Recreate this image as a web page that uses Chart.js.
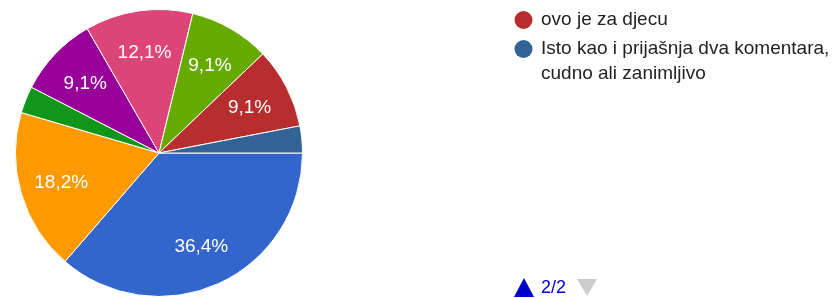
<!DOCTYPE html>
<html>
<head>
<meta charset="utf-8">
<script src="https://cdn.jsdelivr.net/npm/chart.js@4"></script>
<style>
  html, body { margin: 0; padding: 0; background: #fff; }
  #wrap { position: relative; width: 834px; height: 298px; }
</style>
</head>
<body>
<div id="wrap"><canvas id="pie" width="834" height="298"></canvas></div>
<script>
// answers (only the last page of the legend is visible in the original)
const labels = [
  'Odgovor 1', 'Odgovor 2', 'Odgovor 3', 'Odgovor 4',
  'Odgovor 5', 'Odgovor 6',
  'ovo je za djecu',
  'Isto kao i prijašnja dva komentara, cudno ali zanimljivo'
];
const counts = [12, 6, 1, 3, 4, 3, 3, 1];
const colors = ['#3366cc', '#ff9900', '#109618', '#990099', '#dd4477', '#66aa00', '#b82e2e', '#316395'];
const legendFrom = 6;       // legend page 2/2 starts here
const pageText = '2/2';

const FONT = 'Arial, "Liberation Sans", sans-serif';

// percent labels inside the slices
const sliceLabels = {
  id: 'sliceLabels',
  afterDatasetsDraw(chart) {
    const ctx = chart.ctx;
    const meta = chart.getDatasetMeta(0);
    const total = counts.reduce((a, b) => a + b, 0);
    ctx.save();
    ctx.fillStyle = '#fff';
    ctx.font = '19px ' + FONT;
    ctx.textAlign = 'center';
    ctx.textBaseline = 'middle';
    meta.data.forEach((arc, i) => {
      const pct = counts[i] / total * 100;
      if (pct < 5) return;
      const mid = (arc.startAngle + arc.endAngle) / 2;
      const r = arc.outerRadius * 0.71;
      const x = arc.x + Math.cos(mid) * r;
      const y = arc.y + Math.sin(mid) * r;
      ctx.fillText(pct.toFixed(1).replace('.', ',') + '%', x, y + 1);
    });
    ctx.restore();
  }
};

// legend on the right side, one page, with pager at the bottom
const sideLegend = {
  id: 'sideLegend',
  afterDraw(chart) {
    const ctx = chart.ctx;
    ctx.save();
    ctx.font = '19px ' + FONT;
    ctx.textBaseline = 'middle';
    let y = 20;
    const maxW = 834 - 541;
    for (let i = legendFrom; i < labels.length; i++) {
      ctx.fillStyle = colors[i];
      ctx.beginPath();
      ctx.arc(523.5, y, 9, 0, Math.PI * 2);
      ctx.fill();
      // wrap words
      const words = labels[i].split(' ');
      let line = '';
      const lines = [];
      words.forEach(w => {
        const t = line ? line + ' ' + w : w;
        if (ctx.measureText(t).width > maxW && line) { lines.push(line); line = w; }
        else line = t;
      });
      lines.push(line);
      ctx.fillStyle = '#222';
      lines.forEach((l, k) => ctx.fillText(l, 541, y + k * 25));
      y += 30 + (lines.length - 1) * 25 - 1;
    }
    // pager
    ctx.fillStyle = '#0000cc';
    ctx.beginPath();
    ctx.moveTo(524, 278); ctx.lineTo(534, 297); ctx.lineTo(514, 297); ctx.closePath();
    ctx.fill();
    ctx.font = '18px ' + FONT;
    ctx.fillText(pageText, 541, 288);
    ctx.fillStyle = '#cccccc';
    ctx.beginPath();
    ctx.moveTo(577, 279); ctx.lineTo(597, 279); ctx.lineTo(587, 296); ctx.closePath();
    ctx.fill();
    ctx.restore();
  }
};

new Chart(document.getElementById('pie'), {
  type: 'pie',
  data: {
    labels: labels,
    datasets: [{
      data: counts,
      backgroundColor: colors,
      borderColor: '#ffffff',
      borderWidth: 1
    }]
  },
  options: {
    responsive: false,
    animation: false,
    rotation: 90,
    layout: { padding: { left: 15, right: 531, top: 9, bottom: 1 } },
    plugins: {
      legend: { display: false },
      tooltip: { enabled: false }
    }
  },
  plugins: [sliceLabels, sideLegend]
});
</script>
</body>
</html>
